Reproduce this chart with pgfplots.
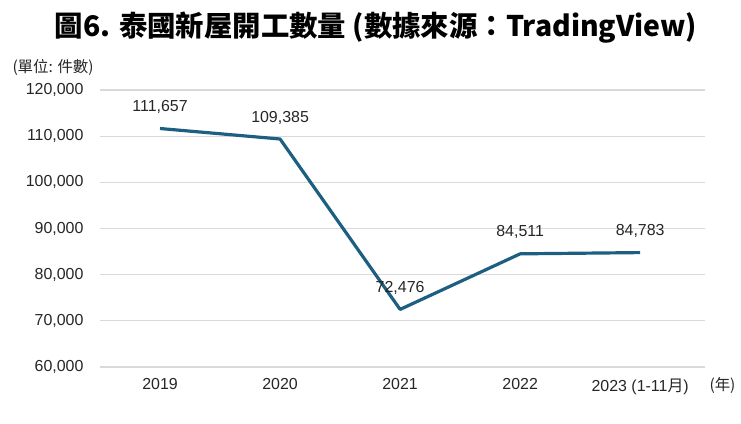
\documentclass[border=0pt]{standalone}
\usepackage{fontspec}
\setmainfont{Liberation Sans}
\newfontfamily\cjk{Noto Sans CJK TC}
\usepackage{pgfplots}
\pgfplotsset{compat=1.18}

\definecolor{lineblue}{HTML}{1C5F80}
\definecolor{gridgray}{HTML}{D9D9D9}
\definecolor{txt}{HTML}{262626}

\begin{document}
\begin{tikzpicture}[x=1bp,y=1bp]
\path[use as bounding box] (0,0) rectangle (741,423);
% title and side notes
\node[anchor=center,font=\cjk\bfseries\fontsize{28.5}{32}\selectfont] at (376,395)
  {圖6. 泰國新屋開工數量 (數據來源：TradingView)};
\node[anchor=west,font=\cjk\fontsize{15.5}{17}\selectfont,text=txt] at (9,356) {(單位: 件數)};
\node[anchor=west,font=\cjk\fontsize{15.5}{17}\selectfont,text=txt] at (706,38) {(年)};
\begin{axis}[
    at={(100bp,56bp)}, anchor=south west,
    scale only axis, width=605bp, height=277bp,
    xmin=-0.5, xmax=4.54,
    ymin=60000, ymax=120000,
    ytick={60000,70000,...,120000},
    xtick={0,1,2,3,4},
    xticklabels={2019,2020,2021,2022,{2023 (1-11{\cjk 月})}},
    axis line style={draw=none},
    major tick length=0pt,
    ymajorgrids, grid style={gridgray, line width=1.3pt},
    tick label style={font=\fontsize{16}{18}\selectfont, text=txt},
    yticklabel style={xshift=-13bp},
    xticklabel style={yshift=-8bp},
    /pgf/number format/assume math mode=true,
    /pgf/number format/.cd, 1000 sep={,}, fixed, precision=0,
    /pgfplots/.cd,
    scaled y ticks=false,
    clip=false,
    nodes near coords,
    nodes near coords style={font=\fontsize{16}{18}\selectfont, text=txt, anchor=south, yshift=10bp},
]
\addplot[lineblue, line width=3.2pt, line join=round] coordinates {
  (0,111657) (1,109385) (2,72476) (3,84511) (4,84783)
};
\end{axis}
\end{tikzpicture}
\end{document}
